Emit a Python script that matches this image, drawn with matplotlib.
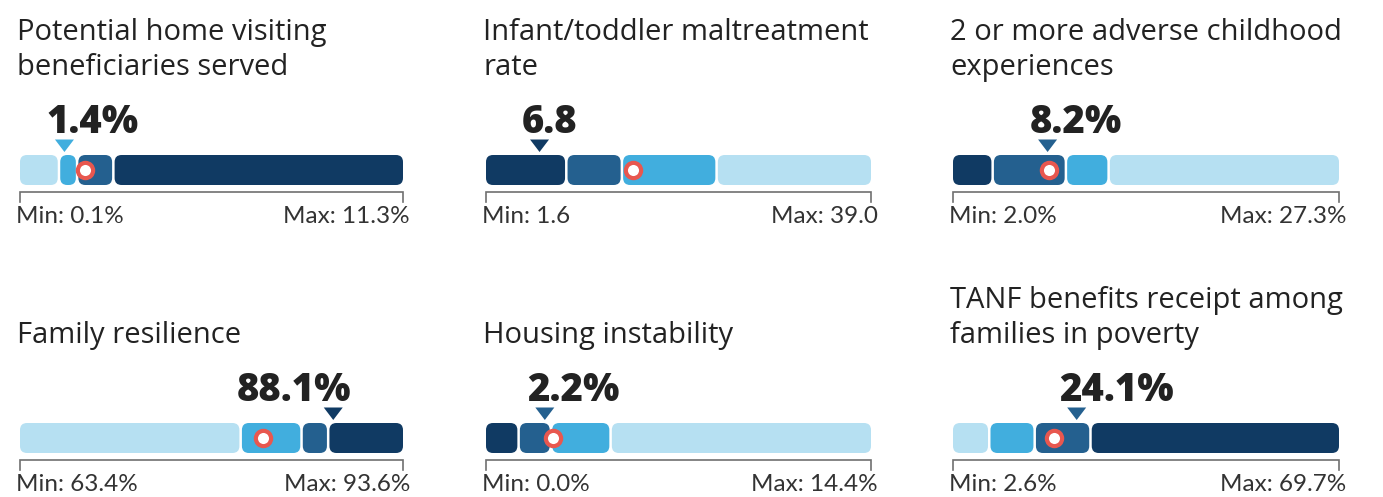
import numpy as np
import matplotlib
matplotlib.use("Agg")
import matplotlib.pyplot as plt
from matplotlib.patches import FancyBboxPatch

plt.rcParams['font.family'] = ['Lato', 'DejaVu Sans']

# indicator data
titles = ["Potential home visiting\nbeneficiaries served",
          "Infant/toddler maltreatment\nrate",
          "2 or more adverse childhood\nexperiences",
          "Family resilience",
          "Housing instability",
          "TANF benefits receipt among\nfamilies in poverty"]
values = [1.4, 6.8, 8.2, 88.1, 2.2, 24.1]
value_labels = ["1.4%", "6.8", "8.2%", "88.1%", "2.2%", "24.1%"]
mins = [0.1, 1.6, 2.0, 63.4, 0.0, 2.6]
maxs = [11.3, 39.0, 27.3, 93.6, 14.4, 69.7]
min_labels = ["Min: 0.1%", "Min: 1.6", "Min: 2.0%", "Min: 63.4%", "Min: 0.0%", "Min: 2.6%"]
max_labels = ["Max: 11.3%", "Max: 39.0", "Max: 27.3%", "Max: 93.6%", "Max: 14.4%", "Max: 69.7%"]
# quartile cut points
cuts = [[1.24, 1.77, 2.83],
        [9.4, 14.8, 24.0],
        [4.6, 9.4, 12.2],
        [80.8, 85.6, 87.7],
        [1.22, 2.43, 4.66],
        [8.9, 16.8, 26.5]]
benchmarks = [2.0, 15.9, 8.3, 82.6, 2.5, 20.2]
dark_first = [False, True, True, False, True, False]

# light -> dark
palette = ["#B6E0F2", "#41AEDE", "#24608F", "#103A63"]

W, H = 1383, 497
fig = plt.figure(figsize=(W / 100, H / 100), dpi=100)

col_x = [(20, 403), (486, 871), (953, 1339)]
row_top = [0, 268]
panel_h = 229
bar_top, bar_h = 155, 30
gap = 2.5
rad = 7

for i in range(6):
    r, c = divmod(i, 3)
    x0, x1 = col_x[c]
    top = row_top[r]
    mn, mx = mins[i], maxs[i]
    ax = fig.add_axes([x0 / W, 1 - (top + panel_h) / H, (x1 - x0) / W, panel_h / H])
    ax.set_xlim(mn, mx)
    ax.set_ylim(panel_h, 0)
    ax.axis('off')
    sx = (mx - mn) / (x1 - x0)  # data units per pixel

    cols = palette[::-1] if dark_first[i] else palette
    edges = [mn] + cuts[i] + [mx]
    for k in range(4):
        a = edges[k] + (gap / 2 * sx if k > 0 else 0)
        b = edges[k + 1] - (gap / 2 * sx if k < 3 else 0)
        ax.add_patch(FancyBboxPatch((a, bar_top), b - a, bar_h,
                                    boxstyle=f"round,pad=0,rounding_size={rad * sx}",
                                    mutation_aspect=1 / sx,
                                    fc=cols[k], ec='none', clip_on=False))

    # segment holding the value gives the pointer colour
    seg = int(np.searchsorted(cuts[i], values[i]))
    v = values[i]
    ax.fill([v - 9.5 * sx, v + 9.5 * sx, v], [139.5, 139.5, 152], color=cols[seg],
            lw=0, clip_on=False)

    ax.plot(benchmarks[i], bar_top + bar_h / 2, 'o', ms=11, mfc='white',
            mec='#E8574F', mew=3, clip_on=False, zorder=5)

    # value label
    vkw = dict(va='baseline', fontsize=27.5, fontweight='heavy', color='#222222',
               family=['Open Sans', 'DejaVu Sans'])
    if (v - mn) / (mx - mn) > 0.7:
        ax.text(v + 18 * sx, 133, value_labels[i], ha='right', **vkw)
    else:
        ax.text(v - 18 * sx, 133, value_labels[i], ha='left', **vkw)

    # range axis
    ax.plot([mn, mn, mx, mx], [202, 192, 192, 202], color='#707070', lw=1.2,
            clip_on=False, solid_joinstyle='miter')
    ax.text(mn - 4 * sx, 223, min_labels[i], ha='left', va='baseline',
            fontsize=17.5, color='#333333')
    ax.text(mx + 7 * sx, 223, max_labels[i], ha='right', va='baseline',
            fontsize=17.5, color='#333333')

    # title, lines bottom aligned
    lines = titles[i].split('\n')
    n = len(lines)
    for j, line in enumerate(lines):
        ax.text(mn - 3 * sx, 75 - 35 * (n - 1 - j), line, ha='left', va='baseline',
                fontsize=21, color='#222222', family=['Open Sans', 'DejaVu Sans'])

fig.savefig('out.png', dpi=100)
